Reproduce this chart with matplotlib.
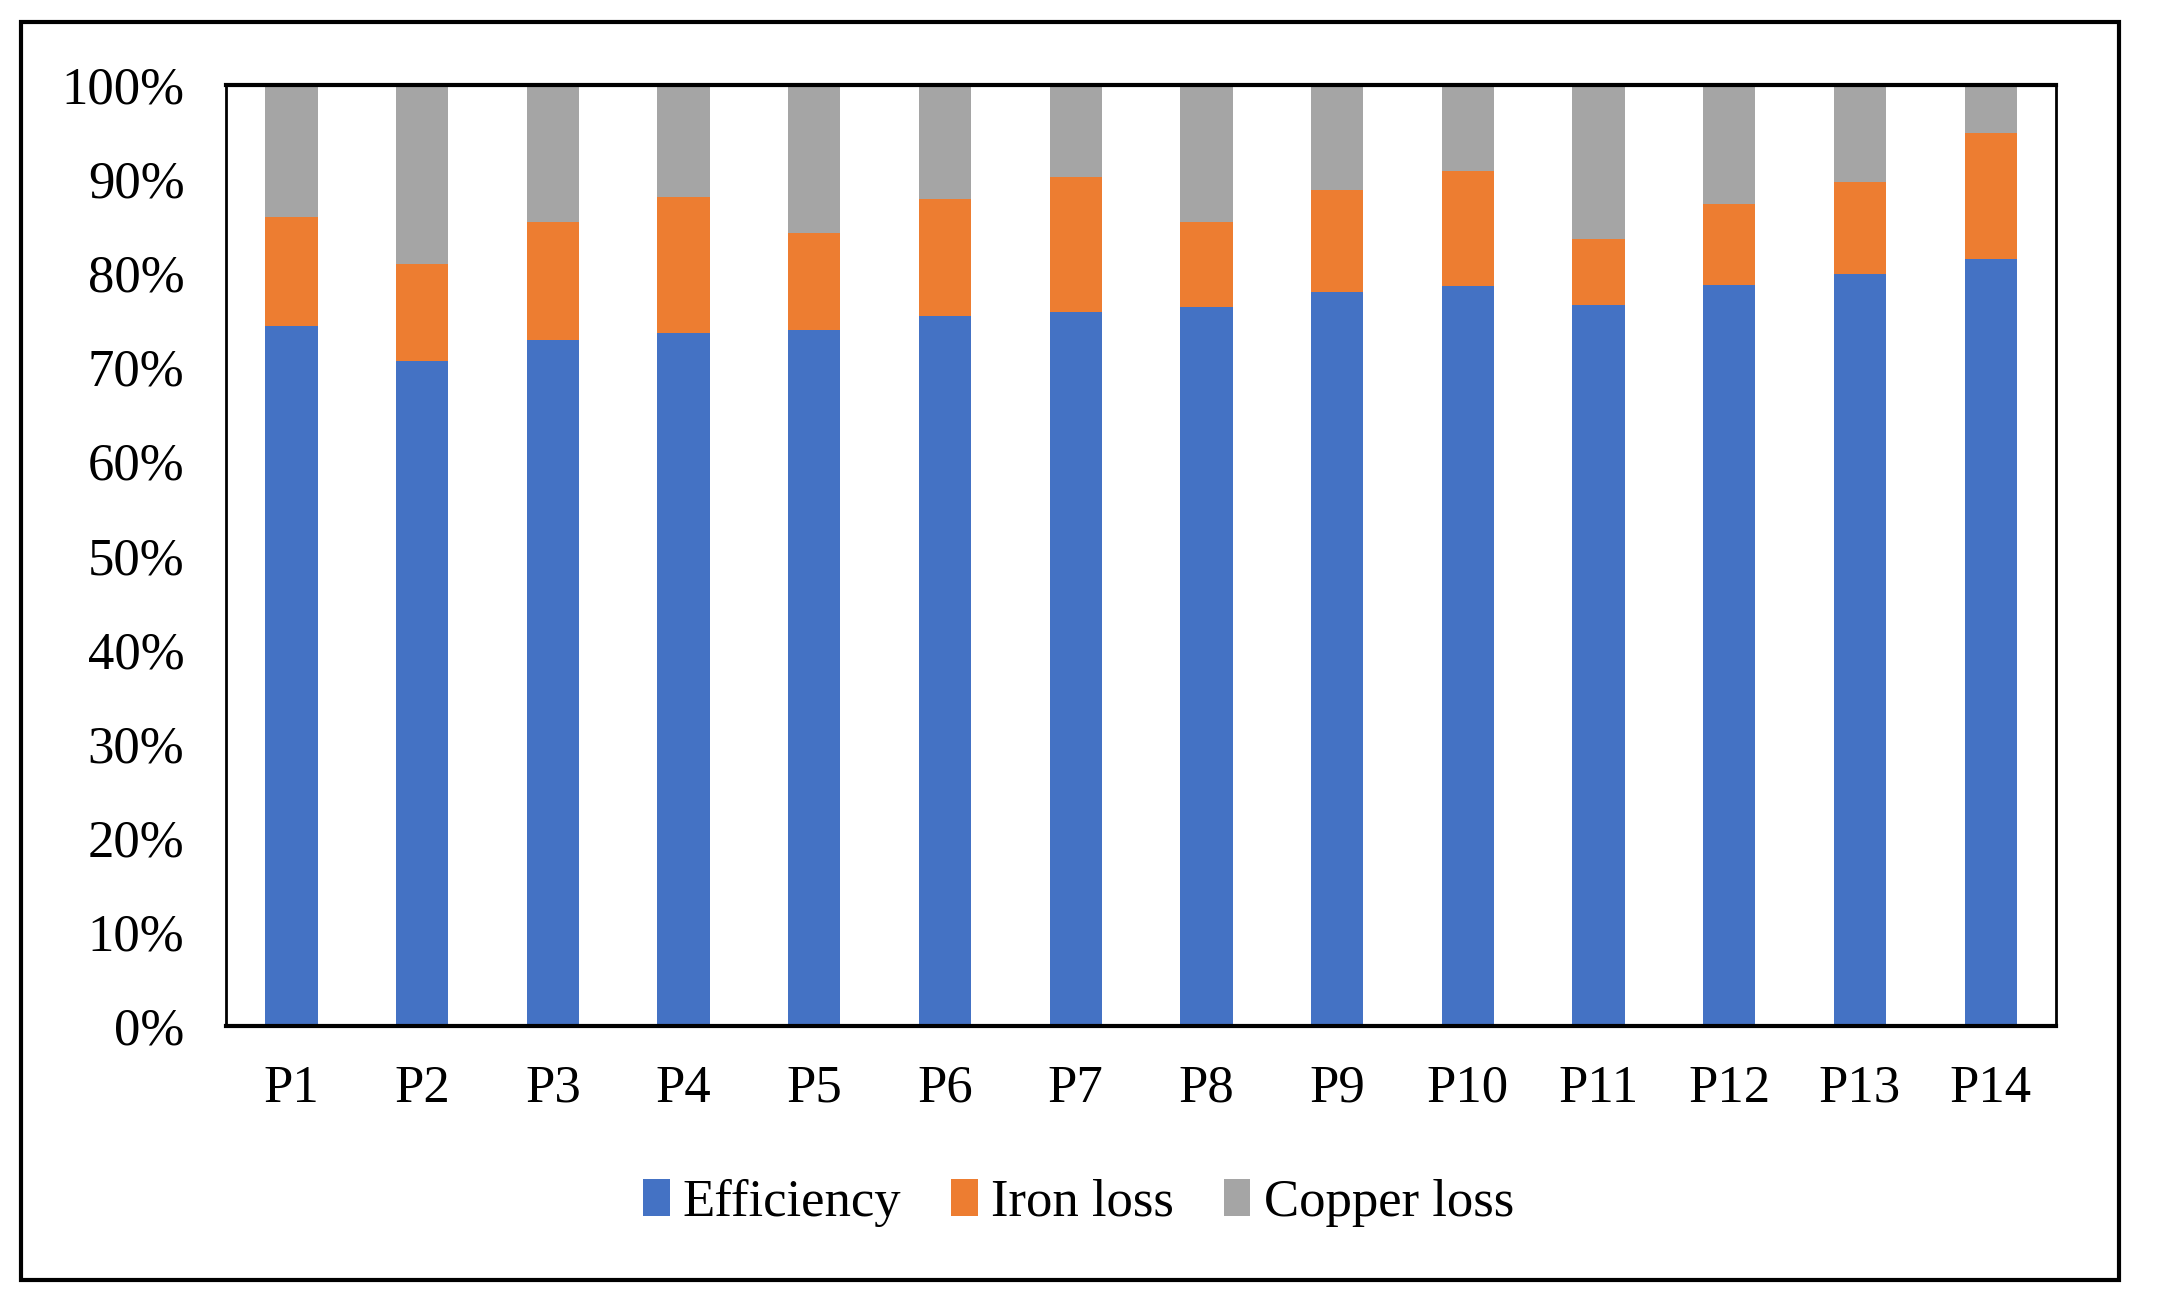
import matplotlib.pyplot as plt
from matplotlib.patches import Rectangle
from matplotlib.ticker import PercentFormatter

# data (percent)
labels = ['P1', 'P2', 'P3', 'P4', 'P5', 'P6', 'P7',
          'P8', 'P9', 'P10', 'P11', 'P12', 'P13', 'P14']
efficiency = [74.4, 70.7, 72.9, 73.6, 74.0, 75.5, 75.9,
              76.4, 78.0, 78.6, 76.6, 78.7, 79.9, 81.5]
iron_loss = [11.6, 10.3, 12.5, 14.5, 10.3, 12.4, 14.3,
             9.0, 10.8, 12.3, 7.0, 8.7, 9.8, 13.4]
copper_loss = [100 - e - i for e, i in zip(efficiency, iron_loss)]

plt.rcParams['font.family'] = ['Liberation Serif', 'DejaVu Serif']

fig = plt.figure(figsize=(21.57, 13.06), dpi=100)
ax = fig.add_axes([0.1048, 0.2144, 0.8484, 0.7205])

x = range(len(labels))
w = 0.4
ax.bar(x, efficiency, w, color='#4472C4', label='Efficiency')
ax.bar(x, iron_loss, w, bottom=efficiency, color='#ED7D31', label='Iron loss')
bottom2 = [e + i for e, i in zip(efficiency, iron_loss)]
ax.bar(x, copper_loss, w, bottom=bottom2, color='#A5A5A5', label='Copper loss')

ax.set_xlim(-0.5, len(labels) - 0.5)
ax.set_ylim(0, 100)
ax.set_yticks(range(0, 101, 10))
ax.yaxis.set_major_formatter(PercentFormatter(decimals=0))
ax.set_xticks(list(x))
ax.set_xticklabels(labels)
ax.tick_params(axis='both', length=0, labelsize=38)
ax.tick_params(axis='x', pad=28)
ax.tick_params(axis='y', pad=30)
for s in ax.spines.values():
    s.set_linewidth(2)
    s.set_color('black')
ax.spines['bottom'].set_linewidth(3)
ax.spines['top'].set_linewidth(3)

leg = fig.legend(loc='center', bbox_to_anchor=(0.5, 0.079), ncol=3, frameon=False,
                 fontsize=38, handlelength=0.5, handleheight=0.7,
                 handletextpad=0.25, columnspacing=0.95)

# outer border of the picture
fig.patches.append(Rectangle((0.0097, 0.0199), 0.9727, 0.9633, transform=fig.transFigure,
                             fill=False, edgecolor='black', linewidth=3))

fig.savefig('out.png', dpi=100)
